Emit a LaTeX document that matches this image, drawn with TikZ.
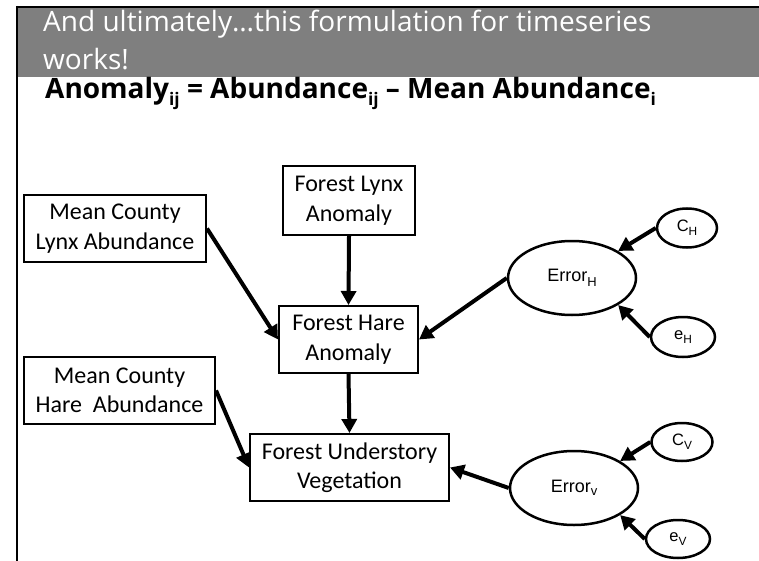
\documentclass[tikz,border=0pt]{standalone}
\usepackage{fontspec}
\setmainfont{Carlito}
\newfontfamily\headfont{Open Sans}
\newfontfamily\errfont{Liberation Sans}
\usetikzlibrary{arrows.meta,shapes.geometric}
\definecolor{bargray}{RGB}{127,127,127}
% lowered small index used in the equation line and the ellipse labels
\newcommand\lowidx[3][0.62em]{\raisebox{-#3}{\fontsize{#1}{#1}\selectfont #2}}

\begin{document}
\begin{tikzpicture}[x=1pt,y=-1pt,
  box/.style={draw,line width=2pt,align=center,inner sep=0pt,
    font=\fontsize{24}{29.5}\selectfont},
  err/.style={ellipse,draw,line width=2.5pt,inner sep=0pt,
    font=\errfont\fontsize{16.5}{20}\selectfont},
  bigerr/.style={err,minimum width=128pt,minimum height=74pt,
    font=\errfont\fontsize{18}{22}\selectfont},
  link/.style={line width=4pt,-{Triangle[length=14pt,width=15pt]}},
  frame/.style={line width=2.5pt}
]
\useasboundingbox (0,0) rectangle (759,561);

% heading bar and slide frame
\fill[bargray] (18,8) rectangle (759,77);
\draw[frame] (16,7) -- (759,7);
\draw[frame] (17,6) -- (17,561);

\node[anchor=base west,inner sep=0pt,text=white,font=\headfont\fontsize{28}{38}\selectfont]
  (title1) at (43,32) {And ultimately…this formulation for timeseries};
\node[anchor=base west,inner sep=0pt,text=white,font=\headfont\fontsize{28}{38}\selectfont]
  (title2) at (43,70) {works!};

\node[anchor=base west,inner sep=0pt,font=\headfont\bfseries\fontsize{28}{34}\selectfont]
  (eq) at (45,99)
  {Anomaly\lowidx{ij}{0.22em} = Abundance\lowidx{ij}{0.22em} – Mean Abundance\lowidx{i}{0.22em}};

% observed variables
\node[box,minimum width=182pt,minimum height=67pt] (mcl) at (115,228.5)
  {Mean County\\Lynx Abundance};
\node[box,minimum width=132pt,minimum height=69pt] (fl) at (349,200.5)
  {Forest Lynx\\Anomaly};
\node[box,minimum width=139pt,minimum height=67pt] (fh) at (348.5,339.5)
  {Forest Hare\\Anomaly};
\node[box,minimum width=191pt,minimum height=67pt] (mch) at (119.5,390.5)
  {Mean County\\Hare\ \ Abundance};
\node[box,minimum width=199pt,minimum height=67pt] (fu) at (349.5,467.5)
  {Forest Understory\\Vegetation};

% error terms
\node[bigerr] (eh) at (572,278)
  {Error\lowidx[0.72em]{H}{0.25em}};
\node[err,minimum width=60pt,minimum height=39pt] (ch) at (687,228)
  {C\lowidx[0.72em]{H}{0.25em}};
\node[err,minimum width=64pt,minimum height=40pt] (ehh) at (683,337)
  {e\lowidx[0.72em]{H}{0.25em}};
\node[bigerr] (ev) at (574,488)
  {Error\lowidx[0.72em]{v}{0.2em}};
\node[err,minimum width=61pt,minimum height=38pt] (cv) at (682,442)
  {C\lowidx[0.72em]{V}{0.25em}};
\node[err,minimum width=64pt,minimum height=38pt] (evv) at (678,539)
  {e\lowidx[0.72em]{V}{0.25em}};

% paths
\draw[link] (mcl.east) -- (fh.west);
\draw[link] (fl.south) -- (fh.north);
\draw[link] (eh.west) -- (fh.east);
\draw[link] (ch.west) -- (eh.north east);
\draw[link] (ehh.west) -- (eh.south east);
\draw[link] (mch.east) -- (fu.west);
\draw[link] (fh.south) -- (fu.north);
\draw[link] (ev.west) -- (fu.east);
\draw[link] (cv.west) -- (ev.north east);
\draw[link] (evv.west) -- (ev.south east);
\end{tikzpicture}
\end{document}
